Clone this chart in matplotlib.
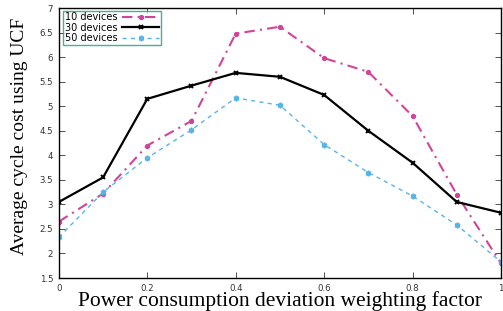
import matplotlib
matplotlib.use('Agg')
import matplotlib.pyplot as plt

# weighting factor values
x_vals = [0.0, 0.1, 0.2, 0.3, 0.4, 0.5, 0.6, 0.7, 0.8, 0.9, 1.0]

dev10 = [2.65, 3.22, 4.20, 4.70, 6.48, 6.62, 5.98, 5.70, 4.80, 3.20, 1.80]
dev30 = [3.05, 3.55, 5.15, 5.42, 5.68, 5.60, 5.23, 4.50, 3.85, 3.05, 2.83]
dev50 = [2.33, 3.25, 3.95, 4.52, 5.17, 5.02, 4.22, 3.65, 3.17, 2.58, 1.83]

x_ticks = [0, 0.2, 0.4, 0.6, 0.8, 1]
x_ticklabels = ['0', '0.2', '0.4', '0.6', '0.8', '1']
y_ticks = [1.5, 2, 2.5, 3, 3.5, 4, 4.5, 5, 5.5, 6, 6.5, 7]
y_ticklabels = ['1.5', '2', '2.5', '3', '3.5', '4', '4.5', '5', '5.5', '6', '6.5', '7']

fig = plt.figure(figsize=(5.03, 3.11), dpi=100)
ax = fig.add_axes([0.117, 0.106, 0.879, 0.868])

ax.plot(x_vals, dev10, color='#d0449a', linewidth=1.5,
        linestyle=(0, (5, 2.5, 1, 2.5)), marker='o', markersize=2.8,
        label='10 devices')
ax.plot(x_vals, dev30, color='black', linewidth=1.6, linestyle='-',
        marker='x', markersize=3.5, markeredgewidth=1.4, label='30 devices')
ax.plot(x_vals, dev50, color='#56b4e9', linewidth=1.0,
        linestyle=(0, (3, 3)), marker=(6, 2, 0), markersize=4,
        markeredgewidth=1.2, label='50 devices')

ax.set_xlim(0, 1)
ax.set_ylim(1.5, 7)
ax.set_xticks(x_ticks)
ax.set_xticklabels(x_ticklabels)
ax.set_yticks(y_ticks)
ax.set_yticklabels(y_ticklabels)
ax.tick_params(direction='in', top=True, right=True, labelsize=6.2,
               length=4, width=0.6, colors='#333333', pad=4)
for sp in ax.spines.values():
    sp.set_linewidth(1.0)

serif = ['Liberation Serif', 'DejaVu Serif']
ax.set_xlabel('Power consumption deviation weighting factor',
              fontfamily=serif, fontsize=15.5, labelpad=-1)
ax.set_ylabel('Average cycle cost using UCF',
              fontfamily=serif, fontsize=14)
ax.yaxis.set_label_coords(-0.07, 0.525)

leg = ax.legend(loc='upper left', markerfirst=False, fontsize=7,
                frameon=True, fancybox=False, borderpad=0.15,
                handlelength=3.8, labelspacing=0.05, handletextpad=0.5,
                borderaxespad=0, bbox_to_anchor=(0.01, 0.99))
leg.get_frame().set_edgecolor('#199e7a')
leg.get_frame().set_linewidth(1.0)
for t in leg.get_texts():
    t.set_ha('right')

fig.savefig('out.png', dpi=100)
